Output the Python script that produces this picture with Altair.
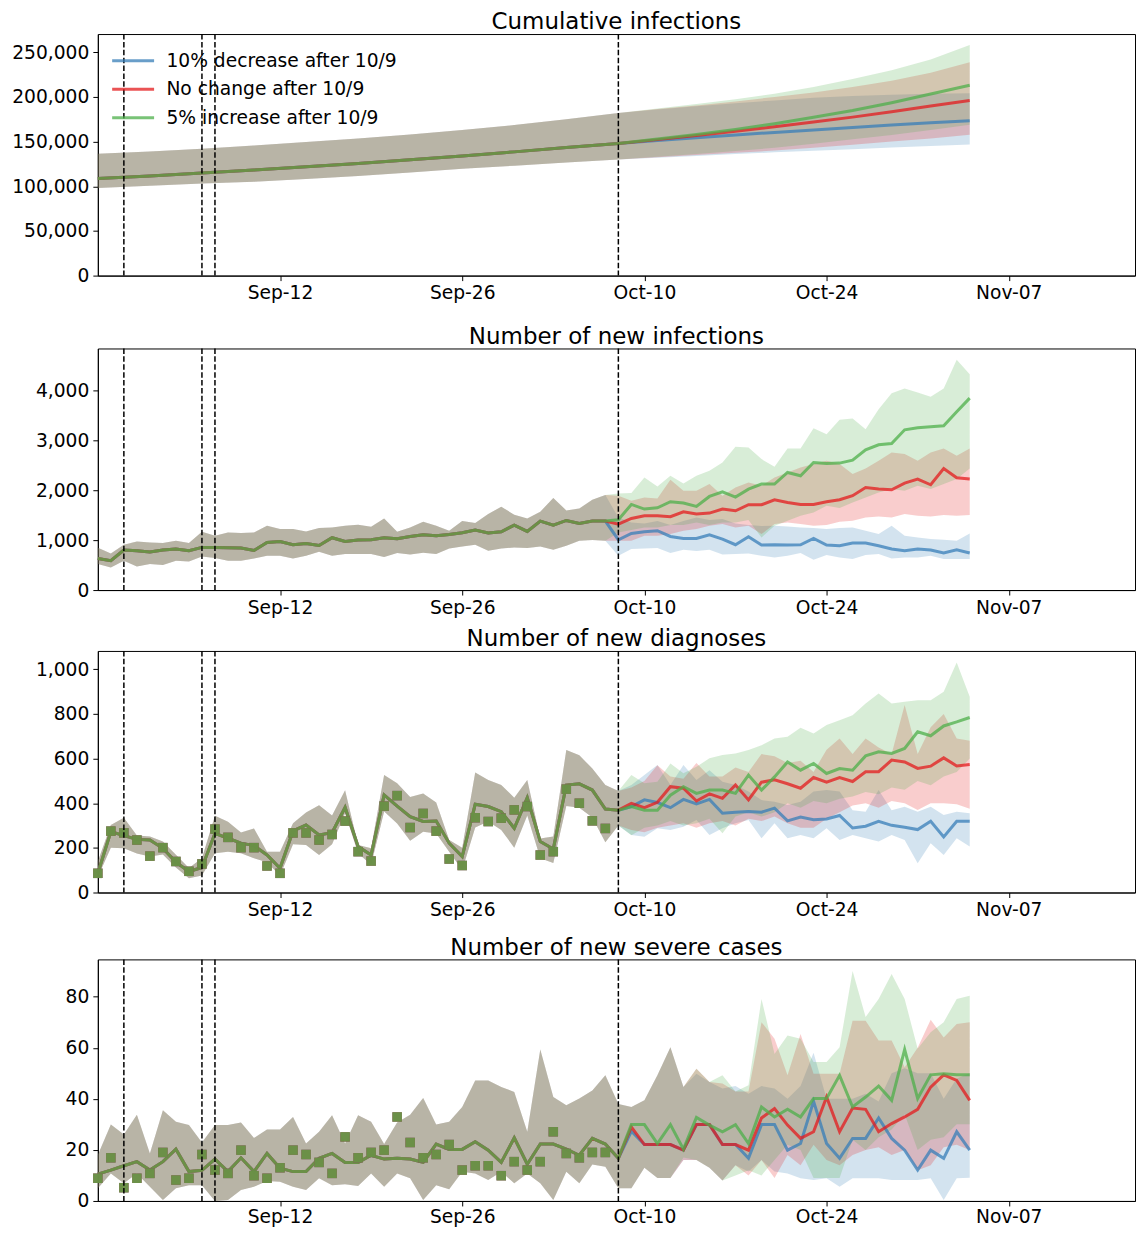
import altair as alt
import pandas as pd

SCENARIOS = ["10% decrease after 10/9", "No change after 10/9", "5% increase after 10/9"]
KEYS = ["dec", "same", "inc"]
COLORS = ["#377eb8", "#e41a1c", "#4daf4a"]

START = "2020-08-29"
EVENT_DAYS = [2, 8, 9, 40]          # dashed reference lines (days after START)
TICK_DATES = [(2020, 9, 12), (2020, 9, 26), (2020, 10, 10), (2020, 10, 24), (2020, 11, 7)]

# ---------------- Panel 1: cumulative infections ----------------
P1_PRE_DAYS = [0, 4, 8, 12, 16, 20, 24, 28, 32, 36, 40]
P1_PRE_MEAN = [108600, 111500, 114800, 118200, 121800, 125600, 129600, 133900, 138500, 143400, 147800]
P1_PRE_LO = [98200, 100500, 103000, 105000, 108000, 111500, 115500, 119700, 123000, 126500, 130000]
P1_PRE_HI = [136500, 139000, 142000, 145500, 149500, 153500, 158000, 163000, 168500, 175000, 182000]
P1_POST_DAYS = [43, 46, 49, 52, 55, 58, 61, 64, 67]
P1_DEC_MEAN = [151300, 154400, 157500, 160300, 163100, 165900, 168600, 171000, 173400]
P1_DEC_LO = [132000, 134000, 136000, 138000, 139800, 141500, 143500, 145000, 146700]
P1_DEC_HI = [186000, 189500, 193000, 196000, 199000, 201000, 202500, 203500, 204200]
P1_SAME_MEAN = [152200, 156800, 161500, 166700, 171900, 177400, 183500, 189900, 196000]
P1_SAME_LO = [132500, 135000, 137500, 140000, 143000, 146500, 150000, 153500, 157700]
P1_SAME_HI = [186500, 190500, 195000, 200000, 205000, 211000, 218000, 227000, 238800]
P1_INC_MEAN = [152800, 158000, 163700, 170000, 177200, 184800, 193500, 203200, 213000]
P1_INC_LO = [133000, 136000, 139500, 143000, 147500, 152500, 157500, 163000, 168900]
P1_INC_HI = [187000, 192000, 197500, 203500, 211000, 220000, 230000, 242000, 258000]

# ---------------- Panel 2: new infections ----------------
P2_PRE_DAYS = list(range(0, 40))
P2_PRE_MEAN = [633, 587, 800, 787, 760, 800, 820, 787, 853, 853, 847, 840, 793, 953, 973, 907, 933, 893, 1047, 973,
               1000, 1007, 1047, 1027, 1073, 1107, 1087, 1113, 1147, 1200, 1140, 1167, 1300, 1173, 1380, 1300, 1393, 1333, 1380, 1380]
P2_PRE_HI = [847, 733, 907, 973, 953, 940, 987, 940, 1167, 1087, 1153, 1140, 1153, 1287, 1220, 1220, 1173, 1240, 1253, 1287,
             1307, 1267, 1433, 1167, 1253, 1367, 1287, 1187, 1380, 1340, 1520, 1667, 1507, 1433, 1567, 1840, 1593, 1633, 1807, 1900]
P2_PRE_LO = [520, 453, 587, 473, 520, 500, 587, 573, 673, 640, 587, 587, 633, 687, 687, 633, 687, 767, 687, 720,
             720, 720, 660, 740, 713, 747, 720, 833, 873, 907, 787, 833, 853, 840, 873, 807, 887, 987, 1000, 987]
P2_POST_DAYS = list(range(40, 68))
P2_DEC_MEAN = [1007, 1133, 1167, 1187, 1073, 1033, 1033, 1107, 1020, 907, 1067, 900, 907, 900, 907, 1033, 900, 887, 940, 940,
               887, 820, 787, 820, 800, 740, 807, 740]
P2_DEC_HI = [1450, 1350, 1330, 1380, 1300, 1380, 1450, 1400, 1420, 1330, 1300, 1280, 1287, 1270, 1253, 1240, 1220, 1240, 1253, 1187,
             1120, 1287, 1087, 1053, 1020, 1007, 987, 1133]
P2_DEC_LO = [687, 820, 833, 840, 740, 807, 780, 807, 713, 720, 733, 687, 653, 687, 740, 607, 700, 653, 620, 700,
             720, 633, 653, 653, 687, 620, 620, 620]
P2_SAME_MEAN = [1320, 1433, 1487, 1487, 1467, 1567, 1520, 1540, 1620, 1587, 1707, 1707, 1807, 1753, 1713, 1713, 1767, 1807, 1887, 2053,
                2020, 2007, 2140, 2220, 2107, 2433, 2247, 2220]
P2_SAME_HI = [1887, 1787, 1853, 1833, 2207, 1987, 1987, 2120, 1887, 2053, 2153, 2087, 2253, 2353, 2453, 2520, 2587, 2520, 2320, 2433,
              2587, 2753, 2720, 2587, 2753, 2833, 2687, 2833]
P2_SAME_LO = [987, 987, 1087, 1087, 1120, 1187, 1220, 1287, 1320, 1253, 1287, 1120, 1320, 1353, 1320, 1287, 1300, 1367, 1387, 1453,
              1473, 1453, 1520, 1487, 1473, 1500, 1487, 1500]
P2_INC_MEAN = [1407, 1713, 1620, 1647, 1767, 1740, 1673, 1873, 1967, 1860, 2020, 2120, 2120, 2353, 2287, 2553, 2533, 2540, 2600, 2807,
               2907, 2933, 3207, 3247, 3267, 3287, 3567, 3840]
P2_INC_HI = [1933, 1940, 2253, 2073, 2287, 2133, 2287, 2387, 2553, 2867, 2853, 2620, 2467, 2833, 2833, 3240, 3120, 3407, 3433, 3220,
             3620, 3940, 4033, 3953, 3867, 4033, 4607, 4320]
P2_INC_LO = [1150, 1200, 1250, 1250, 1300, 1300, 1350, 1300, 1350, 1350, 1400, 1053, 1287, 1387, 1487, 1553, 1687, 1640, 1753, 1853,
             1953, 2020, 1987, 2087, 2020, 2120, 2220, 2433]

# ---------------- Panel 3: new diagnoses ----------------
P3_PRE_DAYS = list(range(0, 41))
P3_PRE_MEAN = [86, 273, 255, 238, 235, 198, 136, 94, 112, 265, 243, 221, 210, 168, 109, 276, 302, 258, 268, 381,
               206, 168, 437, 387, 340, 318, 320, 221, 161, 395, 385, 362, 288, 425, 228, 195, 481, 487, 459, 374, 369]
P3_PRE_HI = [139, 302, 335, 255, 251, 228, 169, 110, 154, 344, 317, 269, 287, 183, 183, 310, 358, 391, 345, 458,
             213, 198, 526, 489, 428, 443, 403, 235, 201, 538, 504, 482, 425, 504, 242, 251, 638, 615, 555, 482, 455]
P3_PRE_LO = [70, 201, 198, 175, 161, 170, 112, 64, 76, 176, 183, 176, 154, 136, 76, 216, 213, 168, 216, 355,
             176, 124, 363, 309, 232, 272, 264, 183, 101, 291, 318, 280, 201, 345, 154, 132, 388, 380, 336, 225, 300]
P3_OBS_DAYS = list(range(0, 40))
P3_OBS = [86, 275, 267, 235, 163, 201, 139, 95, 128, 284, 247, 201, 201, 119, 86, 267, 267, 235, 260, 320,
          183, 141, 387, 434, 291, 354, 275, 150, 121, 335, 318, 333, 370, 385, 168, 183, 463, 400, 321, 287]
P3_POST_DAYS = list(range(41, 68))
P3_DEC_MEAN = [385, 415, 403, 380, 417, 397, 417, 355, 360, 363, 360, 378, 321, 338, 326, 329, 345, 289, 297, 319,
               301, 292, 282, 319, 249, 319, 319]
P3_DEC_HI = [481, 526, 571, 481, 571, 504, 548, 496, 481, 452, 414, 407, 392, 407, 452, 459, 452, 369, 362, 459,
             369, 384, 362, 384, 347, 362, 355]
P3_DEC_LO = [258, 250, 288, 280, 295, 325, 258, 288, 310, 325, 243, 310, 243, 258, 243, 288, 235, 258, 243, 228,
             258, 235, 131, 221, 168, 243, 206]
P3_SAME_MEAN = [399, 380, 404, 474, 467, 410, 442, 422, 482, 415, 494, 505, 487, 467, 515, 494, 515, 497, 541, 541,
                593, 585, 556, 566, 603, 567, 573]
P3_SAME_HI = [470, 500, 570, 520, 510, 580, 520, 520, 560, 540, 620, 610, 580, 590, 540, 640, 690, 620, 690, 650,
              620, 840, 620, 740, 800, 690, 680]
P3_SAME_LO = [280, 270, 290, 300, 310, 290, 310, 320, 300, 330, 320, 340, 310, 290, 290, 330, 360, 390, 400, 380,
              410, 400, 370, 400, 400, 395, 375]
P3_INC_MEAN = [385, 369, 369, 436, 474, 444, 459, 459, 444, 526, 459, 518, 585, 548, 578, 533, 555, 548, 612, 630,
               623, 645, 720, 702, 746, 764, 784]
P3_INC_HI = [526, 489, 496, 578, 534, 563, 601, 616, 623, 638, 660, 690, 698, 738, 712, 750, 772, 794, 847, 891,
             847, 854, 861, 861, 899, 1030, 877]
P3_INC_LO = [256, 290, 300, 320, 300, 310, 330, 265, 340, 360, 340, 360, 400, 380, 410, 400, 420, 430, 450, 440,
             470, 460, 500, 480, 520, 540, 600]

# ---------------- Panel 4: new severe cases ----------------
P4_PRE_DAYS = list(range(0, 41))
P4_PRE_MEAN = [10.5, 12.1, 13.8, 15.4, 12.1, 15.4, 20.3, 11.5, 12.0, 16.4, 11.5, 16.9, 11.5, 18.6, 12.8, 11.5, 11.5, 16.7, 18.6, 15.1,
               15.1, 17.9, 16.4, 16.7, 16.4, 15.1, 22.3, 20.2, 20.2, 23.2, 19.9, 15.1, 24.7, 14.4, 22.3, 22.3, 20.3, 17.9, 24.5, 22.3, 16.7]
P4_PRE_HI = [18, 29.9, 26.0, 33.8, 18.6, 35.5, 31.0, 29.7, 22.9, 29.7, 29.7, 30.7, 24.7, 28.0, 28.0, 32.9, 22.5, 27.1, 33.6, 22.5,
             33.6, 31.0, 22.3, 30.7, 33.8, 40.3, 29.9, 31.0, 36.8, 47.2, 47.2, 44.6, 42.7, 27.1, 59.3, 40.7, 37.5, 40.1, 43.3, 49.2, 38]
P4_PRE_LO = [5, 10.8, 6.9, 10.8, 5.6, 0.4, 5.0, 6.2, 6.2, 0, 0.4, 4.3, 5.6, 7.8, 7.5, 5.6, 4.3, 8.9, 6.2, 6.5,
             5.9, 10.8, 5.6, 10.8, 8.9, 0.4, 6.2, 4.6, 11.4, 10.8, 8.2, 11.4, 6.9, 10.8, 6.9, 0.4, 11.4, 6.9, 14.3, 13.4, 5.0]
P4_OBS_DAYS = list(range(0, 40))
P4_OBS = [8.9, 16.9, 5.2, 8.9, 10.8, 19.0, 8.2, 8.9, 18.2, 12.1, 10.8, 19.9, 9.9, 8.9, 13.0, 19.9, 18.2, 15.1, 10.8, 25.1,
          16.9, 19.0, 19.9, 32.9, 22.9, 16.9, 18.2, 22.1, 12.1, 13.8, 13.8, 9.9, 15.4, 12.1, 15.4, 27.1, 18.6, 16.9, 19.0, 19.0]
P4_POST_DAYS = list(range(41, 68))
P4_DEC_MEAN = [27.3, 22.1, 22.1, 22.1, 19.9, 29.9, 29.9, 22.1, 22.1, 16.7, 29.9, 29.9, 19.9, 22.5, 39.0, 22.5, 16.7, 24.5, 24.5, 32.5,
               24.5, 19.9, 12.1, 19.9, 16.7, 27.1, 19.9]
P4_DEC_HI = [36.8, 39.4, 49.2, 60.2, 44.6, 49.8, 46.6, 44, 45, 42, 45, 44, 40, 45, 58, 40, 40, 40, 42, 39,
             50, 52, 50, 50, 40, 48, 50]
P4_DEC_LO = [5, 13, 9, 9, 16, 16, 13, 8, 14, 11.5, 16, 11.5, 10.8, 8.9, 8.2, 8.9, 5.6, 8.9, 8.9, 8.9,
             8.2, 8.2, 8.2, 8.9, 0.4, 8.9, 9.1]
P4_SAME_MEAN = [29.0, 22.1, 22.1, 22.1, 19.9, 29.9, 29.9, 22.1, 22.1, 19.9, 32.5, 36.2, 29.7, 24.5, 27.1, 40.7, 27.1, 36.4, 35.9, 27.1,
                30.3, 32.9, 35.9, 44.6, 49.4, 47.2, 39.4]
P4_SAME_HI = [36.8, 39.4, 49.2, 60.2, 44.6, 51.8, 46.6, 46, 42.9, 42.9, 70.0, 63.5, 49.2, 65.4, 49.8, 49.8, 49.8, 70.6, 70.6, 62.8,
              62.8, 52.4, 60, 71, 64, 69.3, 70.0]
P4_SAME_LO = [5, 13, 9, 9, 16, 16, 13, 8, 14, 10, 16, 9, 18, 14, 22, 16, 14, 18, 20, 21,
              18, 20, 12, 14, 21, 22, 20]
P4_INC_MEAN = [29.9, 29.9, 22.5, 29.9, 20.3, 32.7, 29.7, 27.1, 29.9, 22.5, 36.8, 32.9, 35.9, 32.9, 40.1, 40.1, 49.2, 36.8, 40.7, 45.0,
               39.4, 59.3, 40.1, 49.4, 49.8, 49.4, 49.4]
P4_INC_HI = [36.8, 39.4, 49.2, 60.2, 44.6, 51.8, 46.6, 49.2, 42.9, 45.3, 79.1, 57.6, 64.8, 63.5, 54.4, 54.4, 60.2, 90.1, 72.0, 79.1,
             88.9, 79.1, 59.6, 66.1, 70.0, 79.1, 80.4]
P4_INC_LO = [5, 13, 9, 9, 17, 16, 13, 8, 10, 12, 10, 16, 22, 20, 9, 9, 9, 24, 20, 25,
             28, 34, 20, 24, 25, 30, 30]


def to_date(d):
    return (pd.Timestamp(START) + pd.Timedelta(days=d)).strftime("%Y-%m-%d")


def build(pre_days, pre_mean, pre_lo, pre_hi, post_days, post):
    rows = []
    for key, name in zip(KEYS, SCENARIOS):
        for d, m, lo, hi in zip(pre_days, pre_mean, pre_lo, pre_hi):
            rows.append({"date": to_date(d), "scenario": name, "mean": m, "lo": lo, "hi": hi})
        m_, lo_, hi_ = post[key]
        for d, m, lo, hi in zip(post_days, m_, lo_, hi_):
            rows.append({"date": to_date(d), "scenario": name, "mean": m, "lo": lo, "hi": hi})
    return pd.DataFrame(rows)


def build_obs(days, vals):
    return pd.DataFrame({"date": [to_date(d) for d in days], "obs": vals})


df1 = build(P1_PRE_DAYS, P1_PRE_MEAN, P1_PRE_LO, P1_PRE_HI, P1_POST_DAYS,
            {"dec": (P1_DEC_MEAN, P1_DEC_LO, P1_DEC_HI), "same": (P1_SAME_MEAN, P1_SAME_LO, P1_SAME_HI),
             "inc": (P1_INC_MEAN, P1_INC_LO, P1_INC_HI)})
df2 = build(P2_PRE_DAYS, P2_PRE_MEAN, P2_PRE_LO, P2_PRE_HI, P2_POST_DAYS,
            {"dec": (P2_DEC_MEAN, P2_DEC_LO, P2_DEC_HI), "same": (P2_SAME_MEAN, P2_SAME_LO, P2_SAME_HI),
             "inc": (P2_INC_MEAN, P2_INC_LO, P2_INC_HI)})
df3 = build(P3_PRE_DAYS, P3_PRE_MEAN, P3_PRE_LO, P3_PRE_HI, P3_POST_DAYS,
            {"dec": (P3_DEC_MEAN, P3_DEC_LO, P3_DEC_HI), "same": (P3_SAME_MEAN, P3_SAME_LO, P3_SAME_HI),
             "inc": (P3_INC_MEAN, P3_INC_LO, P3_INC_HI)})
df4 = build(P4_PRE_DAYS, P4_PRE_MEAN, P4_PRE_LO, P4_PRE_HI, P4_POST_DAYS,
            {"dec": (P4_DEC_MEAN, P4_DEC_LO, P4_DEC_HI), "same": (P4_SAME_MEAN, P4_SAME_LO, P4_SAME_HI),
             "inc": (P4_INC_MEAN, P4_INC_LO, P4_INC_HI)})
obs3 = build_obs(P3_OBS_DAYS, P3_OBS)
obs4 = build_obs(P4_OBS_DAYS, P4_OBS)
events = pd.DataFrame({"date": [to_date(d) for d in EVENT_DAYS]})

FONT = "DejaVu Sans"
X_DOMAIN = [alt.DateTime(year=2020, month=8, date=29, utc=True),
            alt.DateTime(year=2020, month=11, date=16, hours=16, minutes=50, utc=True)]
X_TICKS = [alt.DateTime(year=y, month=m, date=d, utc=True) for (y, m, d) in TICK_DATES]

LEGEND = alt.Legend(orient="none", legendX=26, legendY=17.5, symbolType="M-3,0L3,0", symbolSize=196,
                    symbolStrokeWidth=3, symbolOpacity=0.75, labelFontSize=18.7, labelFont=FONT,
                    labelColor="black", labelOffset=24, rowPadding=8.5, padding=0, labelLimit=400)

PLOT_W = 1039


def make_panel(df, obs, title, ymax, yticks, xext, xpad, legend):
    xenc = alt.X("date:T", scale=alt.Scale(type="utc", domain=X_DOMAIN),
                 axis=alt.Axis(values=X_TICKS, labelExpr="utcFormat(datum.value, '%b-%d')", title=None,
                               minExtent=xext, labelPadding=xpad))
    yscale = alt.Scale(domain=[0, ymax], nice=False, zero=True)
    yaxis = alt.Axis(values=yticks, labelExpr="format(datum.value, ',')", title=None, minExtent=89, labelPadding=4)
    layers = []
    for name, color in zip(SCENARIOS, COLORS):
        layers.append(
            alt.Chart(df).transform_filter(alt.datum.scenario == name)
            .mark_area(color=color, opacity=0.22)
            .encode(x=xenc, y=alt.Y("lo:Q", scale=yscale, axis=yaxis), y2=alt.Y2("hi:Q"))
        )
    for name, color in zip(SCENARIOS, COLORS):
        enc = {"x": xenc, "y": alt.Y("mean:Q", scale=yscale, axis=yaxis)}
        if legend:
            enc["stroke"] = alt.Stroke("scenario:N", scale=alt.Scale(domain=SCENARIOS, range=COLORS),
                                       legend=LEGEND, title=None)
        layers.append(
            alt.Chart(df).transform_filter(alt.datum.scenario == name)
            .mark_line(color=color, strokeWidth=3, opacity=0.75)
            .encode(**enc)
        )
    if obs is not None:
        for color in COLORS:
            layers.append(
                alt.Chart(obs).mark_square(color=color, size=90, opacity=0.75)
                .encode(x=xenc, y=alt.Y("obs:Q", scale=yscale, axis=yaxis))
            )
    layers.append(
        alt.Chart(events).mark_rule(color="black", strokeWidth=1.5, strokeDash=[5.5, 2.4])
        .encode(x=xenc)
    )
    return alt.layer(*layers).properties(
        width=PLOT_W, height=242,
        title=alt.TitleParams(text=title, fontSize=23, fontWeight="normal", font=FONT,
                              color="black", anchor="middle", offset=-1)
    )


p1 = make_panel(df1, None, "Cumulative infections", 270400, [0, 50000, 100000, 150000, 200000, 250000], 41, 3, True)
p2 = make_panel(df2, None, "Number of new infections", 4834, [0, 1000, 2000, 3000, 4000], 29, 3, False)
p3 = make_panel(df3, obs3, "Number of new diagnoses", 1082, [0, 200, 400, 600, 800, 1000], 35, 3, False)
p4 = make_panel(df4, obs4, "Number of new severe cases", 94.6, [0, 20, 40, 60, 80], 26, 2, False)

chart = (
    alt.vconcat(p1, p2, p3, p4, spacing=7)
    .resolve_scale(stroke="independent")
    .properties(padding={"top": 1, "bottom": 0, "left": 0, "right": 0})
    .configure(font=FONT)
    .configure_view(stroke="black", strokeWidth=1)
    .configure_axis(domainColor="black", tickColor="black", labelColor="black", labelFontSize=18.7,
                    labelFont=FONT, tickSize=5, grid=False, domainWidth=1, tickWidth=1)
)

chart.save("out.html", embed_options={"renderer": "svg", "actions": False})
